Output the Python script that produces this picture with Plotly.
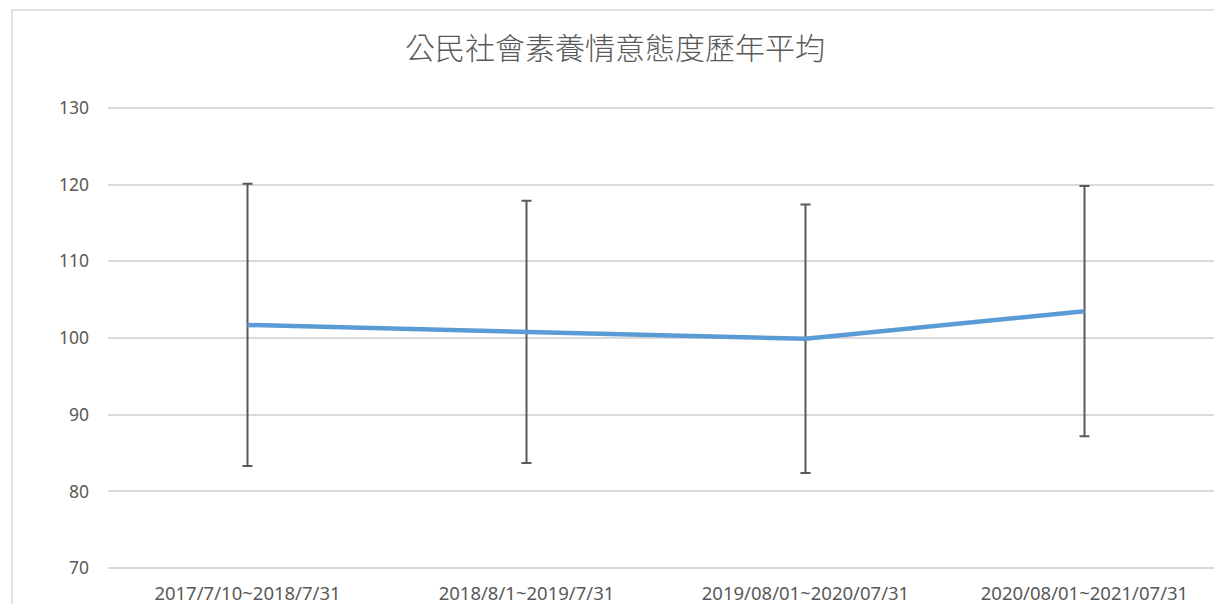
import plotly.graph_objects as go

categories = ["2017/7/10~2018/7/31", "2018/8/1~2019/7/31", "2019/08/01~2020/07/31", "2020/08/01~2021/07/31"]
means = [101.7, 100.8, 99.9, 103.5]
sds = [18.4, 17.1, 17.5, 16.3]
y_ticks = [70, 80, 90, 100, 110, 120, 130]
title_text = "公民社會素養情意態度歷年平均"

fig = go.Figure()
fig.add_trace(go.Scatter(
    x=categories, y=means, mode="lines",
    line=dict(color="#5B9BD5", width=4.5),
    error_y=dict(type="data", array=sds, visible=True, color="#595959", thickness=2, width=5),
    showlegend=False, hoverinfo="skip",
))

W, H = 1214, 604
ppu = 460 / 60.0          # pixels per y unit
pad = 0.5                 # y-range padding so edge gridlines are drawn
T = round(108 - pad * ppu)
B = round(H - 568 - pad * ppu)
L, R = 108, 0
pw = W - L - R
ph = H - T - B
cat_w = 279.0

fig.update_layout(
    width=W, height=H,
    margin=dict(l=L, r=R, t=T, b=B, autoexpand=False),
    paper_bgcolor="white", plot_bgcolor="white",
    title=dict(text=title_text, x=615 / W, xanchor="center", y=1 - 48 / H,
               yanchor="middle", yref="container", xref="container",
               font=dict(family="Noto Sans CJK TC", size=30, color="#595959", weight=300)),
    font=dict(family="Noto Sans", color="#595959"),
    xaxis=dict(type="category", range=[-0.5, -0.5 + pw / cat_w], showgrid=False, automargin=False,
               showline=False, zeroline=False, ticks="", tickfont=dict(size=18.5, color="#595959"),
               ticklabelstandoff=8, fixedrange=True),
    yaxis=dict(range=[70 - pad, 130 + pad], tickvals=y_ticks, showgrid=True, gridcolor="#D9D9D9",
               gridwidth=1.5, zeroline=False, showline=False, ticks="", automargin=False,
               tickfont=dict(size=17.5, color="#595959"), ticklabelstandoff=18, fixedrange=True),
)

# chart border (light grey frame, cropped on the right and bottom)
fig.add_shape(type="rect", xref="paper", yref="paper",
              x0=(12 - L) / pw, x1=1.05, y0=-0.3, y1=(H - B - 10) / ph,
              line=dict(color="#D9D9D9", width=1.5), layer="below")

fig.write_html("out.html", config={"displayModeBar": False},
               post_script="document.body.style.margin='0';document.body.style.overflow='hidden';")
